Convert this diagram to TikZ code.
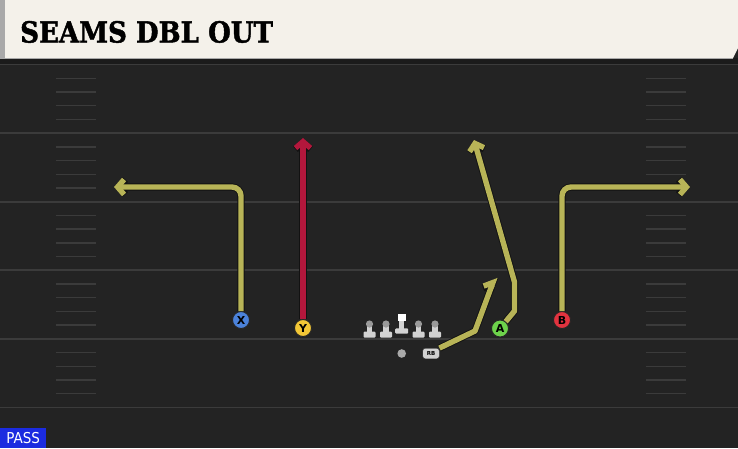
\documentclass[tikz,border=0pt]{standalone}
\usepackage{fontspec}
\newfontfamily\titlefont{DejaVu Serif}[UprightFont=* Bold,FakeBold=1.6]
\newfontfamily\tagfont{DejaVu Sans}
\newfontfamily\passfont{DejaVu Sans Condensed}
\usetikzlibrary{arrows.meta}
\definecolor{field}{HTML}{232323}
\definecolor{fieldband}{HTML}{1B1B1B}
\definecolor{fieldline}{HTML}{3B3B3B}
\definecolor{paper}{HTML}{F4F1EA}
\definecolor{stripgray}{HTML}{A9A9A9}
\definecolor{routecol}{HTML}{B8B457}
\definecolor{routeedge}{HTML}{121212}
\definecolor{seamcol}{HTML}{B3173C}
\definecolor{xblue}{HTML}{4B82DA}
\definecolor{yyellow}{HTML}{F3C736}
\definecolor{agreen}{HTML}{6DD24B}
\definecolor{bred}{HTML}{E2333F}
\definecolor{passblue}{HTML}{1B2BE0}
\definecolor{bodygray}{HTML}{D2D2D2}
\definecolor{headgray}{HTML}{9A9A9A}
\tikzset{
  player/.style={circle,draw=black!85,line width=0.9pt,minimum size=17pt,
    inner sep=0pt,font=\tagfont\bfseries\fontsize{11}{11}\selectfont},
  yardline/.style={draw=fieldline,line width=1.8pt},
  hashmark/.style={draw=fieldline,line width=1.4pt},
  tip/.style={-{Straight Barb[length=6.5pt,width=15pt]}},
  halftip/.style={-{Straight Barb[harpoon,length=6.5pt,width=15pt]}}
}
\begin{document}
\begin{tikzpicture}[x=1pt,y=-1pt]
   \useasboundingbox (0,0) rectangle (738,448);
   % field
   \fill[field] (0,0) rectangle (738,448);
   \fill[fieldband] (0,58) rectangle (738,64);
   \foreach \k in {0,...,5}
      \draw[yardline] (0,64.5+68.6*\k) -- (738,64.5+68.6*\k);
   \foreach \k in {0,...,4}
      \foreach \j in {1,...,4} {
         \draw[hashmark] (56,64.5+68.6*\k+13.72*\j) -- (96,64.5+68.6*\k+13.72*\j);
         \draw[hashmark] (646,64.5+68.6*\k+13.72*\j) -- (686,64.5+68.6*\k+13.72*\j);
      }
   % header
   \fill[paper] (5,0) -- (738,0) -- (738,48) -- (733,58) -- (5,58) -- cycle;
   \fill[stripgray] (0,0) rectangle (5,58);
   \draw[stripgray,line width=0.8pt] (0,58) -- (733,58);
   \node[anchor=base west,inner sep=0pt,font=\titlefont\fontsize{29}{29}\selectfont]
      (title) at (20,42.5) {\scalebox{0.9}[1]{SEAMS DBL OUT}};
   % offensive line
   \foreach \lx in {369.5,386,418.5,435} {
      \fill[bodygray] (\lx-2.7,324) rectangle (\lx+2.7,333);
      \fill[bodygray,rounded corners=1pt] (\lx-6,331.5) rectangle (\lx+6,337.5);
      \fill[headgray] (\lx,324) circle (3.6);
   }
   \fill[bodygray] (399.1,321) rectangle (404.3,329);
   \fill[bodygray,rounded corners=1pt] (395.2,328.3) rectangle (408.2,333.6);
   \fill[white] (397.7,314) rectangle (405.7,321.4);
   % backs and receivers
   \node[circle,fill=headgray!85,inner sep=0pt,minimum size=8.6pt] (qb) at (401.7,353.5) {};
   \node[draw=black!80,fill=bodygray,rounded corners=2.5pt,inner sep=0pt,minimum width=16.5pt,
      minimum height=10.5pt,font=\tagfont\bfseries\fontsize{5.5}{5.5}\selectfont] (rb) at (431,353.5) {RB};
   \node[player,fill=xblue] (X) at (241,320) {X};
   \node[player,fill=yyellow] (Y) at (303,328) {Y};
   \node[player,fill=agreen] (A) at (500,328.5) {A};
   \node[player,fill=bred] (B) at (562,320) {B};
   % route points
   \coordinate (xtip) at (114,187);
   \coordinate (ytip) at (303,138);
   \coordinate (a1) at (514.5,311);
   \coordinate (a2) at (514.5,282);
   \coordinate (atip) at (474,140);
   \coordinate (btip) at (690,187);
   \coordinate (rb1) at (475,331);
   \coordinate (rbtip) at (495,277);
   % routes, edge first
   \foreach \lw/\rc/\sc in {7.2pt/routeedge/routeedge,5.4pt/routecol/seamcol} {
      \draw[line width=\lw,draw=\rc,rounded corners=9pt,tip] (X) |- (xtip);
      \draw[line width=\lw,draw=\rc,rounded corners=9pt,tip] (B) |- (btip);
      \draw[line width=\lw,draw=\sc,tip] (Y) -- (ytip);
      \draw[line width=\lw,draw=\rc,line join=round,tip] (A) -- (a1) -- (a2) -- (atip);
      \draw[line width=\lw,draw=\rc,line join=round,halftip] (rb.north east) -- (rb1) -- (rbtip);
   }
   % play type
   \node[fill=passblue,text=white,anchor=south west,inner sep=0pt,minimum width=46pt,
      minimum height=20pt,font=\passfont\fontsize{15}{15}\selectfont] (pass) at (0,448) {PASS};
\end{tikzpicture}
\end{document}
